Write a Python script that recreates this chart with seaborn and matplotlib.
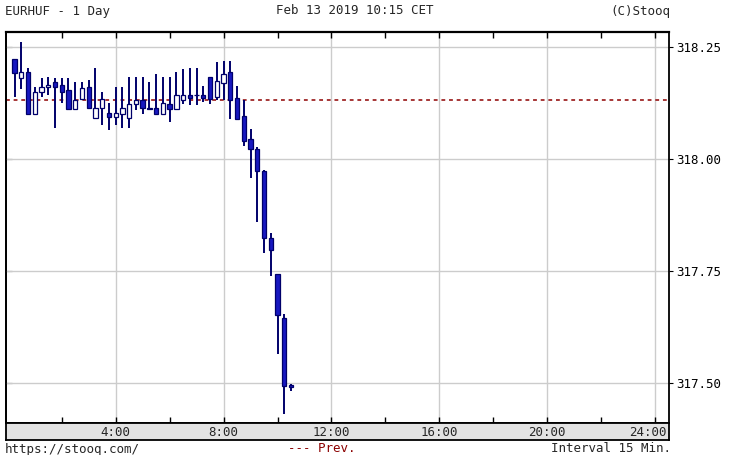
import matplotlib
matplotlib.use("Agg")
import matplotlib.pyplot as plt
import matplotlib.transforms as mtransforms
import seaborn as sns
import pandas as pd
import numpy as np

# 15 minute candles, EURHUF, 13 Feb 2019
times = pd.date_range("2019-02-13 00:15", periods=42, freq="15min")
opens = [318.222, 318.180, 318.193, 318.099, 318.149, 318.160, 318.171, 318.165,
         318.154, 318.110, 318.134, 318.160, 318.090, 318.112, 318.101, 318.092,
         318.099, 318.090, 318.123, 318.130, 318.112, 318.112, 318.099, 318.121,
         318.110, 318.130, 318.143, 318.143, 318.141, 318.182, 318.138, 318.169,
         318.193, 318.136, 318.095, 318.044, 318.022, 317.972, 317.823, 317.742,
         317.644, 317.495]
highs = [318.222, 318.261, 318.202, 318.160, 318.180, 318.182, 318.180, 318.180,
         318.180, 318.171, 318.171, 318.176, 318.202, 318.149, 318.125, 318.160,
         318.160, 318.182, 318.182, 318.182, 318.171, 318.189, 318.182, 318.182,
         318.193, 318.200, 318.202, 318.202, 318.162, 318.182, 318.215, 318.219,
         318.219, 318.162, 318.132, 318.066, 318.025, 317.974, 317.834, 317.742,
         317.652, 317.497]
lows = [318.138, 318.156, 318.097, 318.099, 318.138, 318.143, 318.068, 318.125,
        318.110, 318.110, 318.132, 318.110, 318.090, 318.075, 318.064, 318.075,
        318.068, 318.068, 318.108, 318.099, 318.110, 318.099, 318.099, 318.081,
        318.108, 318.121, 318.119, 318.119, 318.127, 318.121, 318.132, 318.132,
        318.088, 318.088, 318.029, 317.957, 317.858, 317.790, 317.738, 317.563,
        317.429, 317.482]
closes = [318.191, 318.193, 318.099, 318.149, 318.160, 318.165, 318.160, 318.149,
          318.110, 318.132, 318.158, 318.112, 318.112, 318.134, 318.092, 318.101,
          318.112, 318.121, 318.130, 318.112, 318.110, 318.099, 318.125, 318.110,
          318.143, 318.143, 318.136, 318.141, 318.136, 318.134, 318.173, 318.189,
          318.132, 318.088, 318.040, 318.022, 317.972, 317.823, 317.795, 317.650,
          317.493, 317.491]
prev_close = 318.13

price_ticks = [317.50, 317.75, 318.00, 318.25]
hour_ticks = [4, 8, 12, 16, 20, 24]
hour_minor = [2, 6, 10, 14, 18, 22]
hour_labels = ["4:00", "8:00", "12:00", "16:00", "20:00", "24:00"]

df = pd.DataFrame({"time": times, "open": opens, "high": highs,
                   "low": lows, "close": closes})
df["hour"] = (df["time"] - df["time"].dt.normalize()) / pd.Timedelta(hours=1)
df["up"] = df["close"] >= df["open"]
df["bottom"] = df[["open", "close"]].min(axis=1)
df["body"] = (df["close"] - df["open"]).abs().clip(lower=0.0015)

sns.set_style("white")
plt.rcParams["font.family"] = ["DejaVu Sans Mono"]

W, H = 730, 455
fig = plt.figure(figsize=(W / 100, H / 100), dpi=100)
ax = fig.add_axes([6 / W, 32 / H, 663.3 / W, 391 / H])
band = fig.add_axes([6 / W, 15 / H, 663.3 / W, 17 / H])

# grid + previous close
ax.set_xticks(hour_ticks)
ax.set_xticks(hour_minor, minor=True)
ax.set_yticks(price_ticks)
ax.grid(True, which="major", color="#cccccc", lw=1)
ax.axhline(prev_close, color="#8e0000", lw=1.1, ls=(0, (2.5, 2.5)), zorder=2)

# candles
ax.vlines(df["hour"], df["low"], df["high"], color="#00006a", lw=1.4, zorder=3)
ax.bar(df["hour"], df["body"], bottom=df["bottom"], width=0.16,
       color=np.where(df["up"], "white", "#1818c0"),
       edgecolor="#00006a", lw=0.9, zorder=4)

ax.set_xlim(-0.067, 24.527)
ax.set_ylim(317.4096, 318.2828)

ax.tick_params(axis="x", which="both", direction="in", top=True, bottom=True,
               length=4, width=1, color="black", labelbottom=False)
ax.yaxis.tick_right()
ax.set_yticklabels([f"{p:.2f}" for p in price_ticks])
ax.tick_params(axis="y", direction="out", length=3, pad=2, labelsize=9,
               color="black", labelcolor="black")
sec = ax.secondary_yaxis("left")
sec.set_yticks(price_ticks)
sec.tick_params(direction="in", length=4, labelleft=False, color="black")
sec.spines["left"].set_color("black")
sec.spines["left"].set_linewidth(1.3)
for s in ax.spines.values():
    s.set_color("black")
    s.set_linewidth(1.3)
ax.spines["top"].set_linewidth(1.6)

# time label strip
band.set_facecolor("#e3e3e3")
band.set_xlim(ax.get_xlim())
band.set_xticks([])
band.set_yticks([])
for s in band.spines.values():
    s.set_color("black")
    s.set_linewidth(1.3)
trans = mtransforms.blended_transform_factory(band.transData, band.transAxes)
for h, lab in zip(hour_ticks[:-1], hour_labels[:-1]):
    band.text(h, 0.45, lab, transform=trans, ha="center", va="center", fontsize=9)
band.text(0.996, 0.45, hour_labels[-1], transform=band.transAxes,
          ha="right", va="center", fontsize=9)

# header / footer texts
fig.text(5 / W, 1 - 11 / H, "EURHUF - 1 Day", va="center", fontsize=9)
fig.text(276 / W, 1 - 11 / H, "Feb 13 2019 10:15 CET", va="center", fontsize=9)
fig.text(670 / W, 1 - 11 / H, "(C)Stooq", va="center", ha="right", fontsize=9)
fig.text(5 / W, 1 - 449 / H, "https://stooq.com/", va="center", fontsize=9)
fig.text(288 / W, 1 - 449 / H, "--- Prev.", va="center", fontsize=9, color="#8b0000")
fig.text(671 / W, 1 - 449 / H, "Interval 15 Min.", va="center", ha="right", fontsize=9)

fig.savefig("out.png", dpi=100, facecolor="white")
